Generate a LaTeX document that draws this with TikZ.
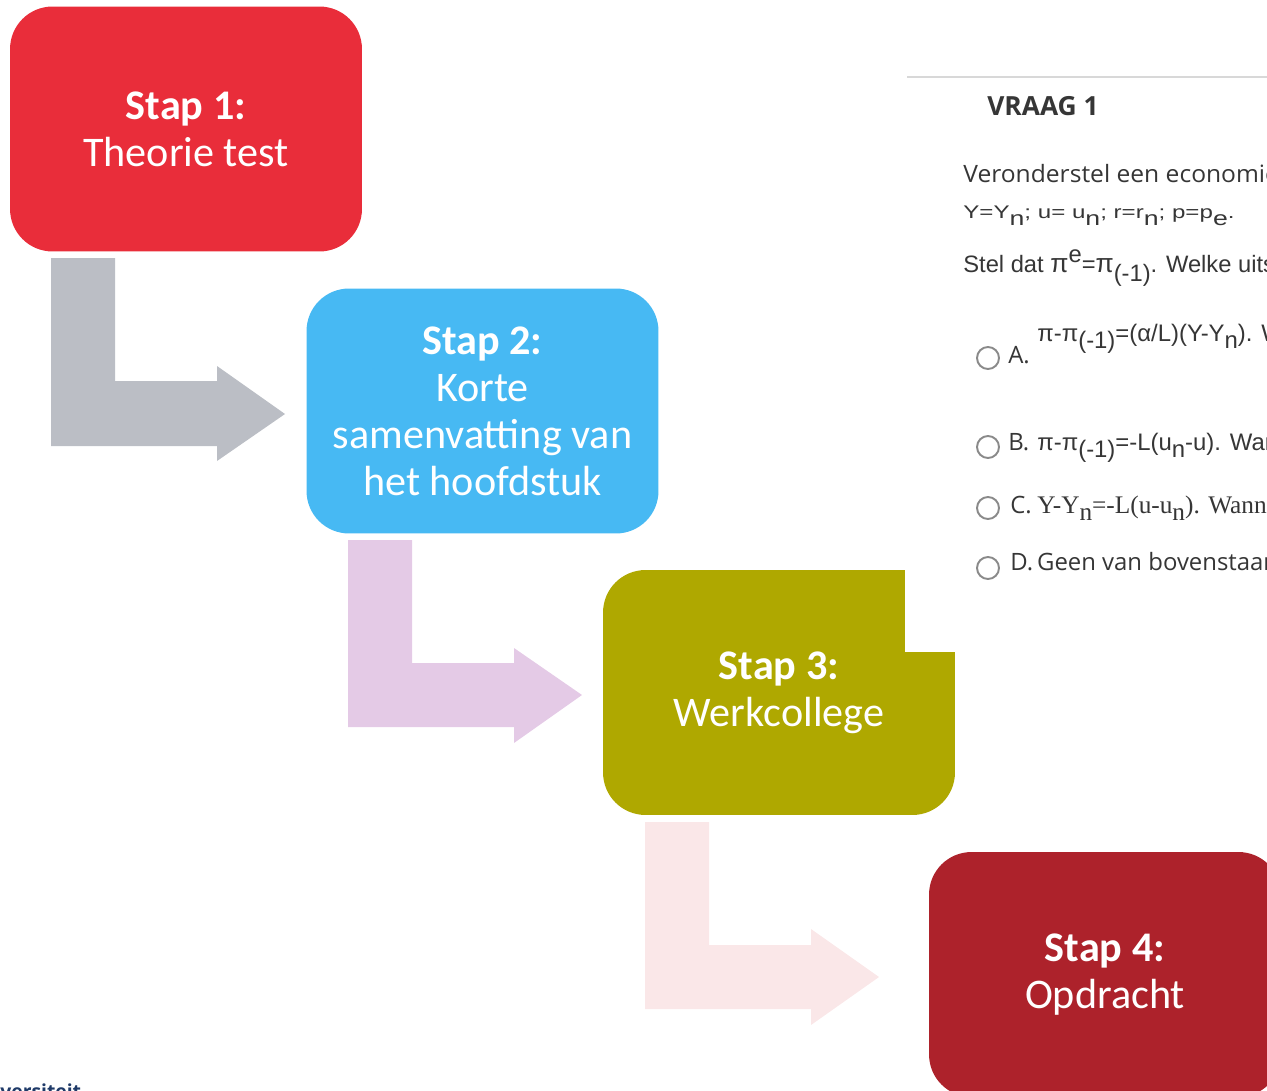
\documentclass[tikz,border=0pt]{standalone}
\usepackage{fontspec}
\usepackage{graphicx}
\setmainfont{Carlito}
\newfontfamily\osans{Open Sans}
\newfontfamily\arialf{Liberation Sans}
\newfontfamily\serff{Liberation Serif}
\definecolor{stapA}{HTML}{E92D3A}
\definecolor{stapB}{HTML}{47B9F3}
\definecolor{stapC}{HTML}{AFA800}
\definecolor{stapD}{HTML}{AD222B}
\definecolor{arrA}{HTML}{BBBEC5}
\definecolor{arrB}{HTML}{E4CAE6}
\definecolor{arrC}{HTML}{FAE7E8}
\definecolor{shottext}{HTML}{363636}
\definecolor{shotline}{HTML}{D8D8D8}
\definecolor{radiogray}{HTML}{8A8A8A}
\definecolor{navyuni}{HTML}{1F3A68}
\newcommand{\lowsub}[2]{\raisebox{-#1}{#2}}
\begin{document}
\begin{tikzpicture}[x=0.02cm,y=-0.02cm,
  stepbox/.style={rounded corners=0.85cm, minimum width=7.04cm, minimum height=4.9cm,
    inner sep=0pt, align=center, text=white, font=\fontsize{24}{26.7}\selectfont},
  shot/.style={anchor=base west, inner sep=0pt, text=shottext},
  osbody/.style={shot, font=\osans\fontsize{13.6}{16}\selectfont},
  arbody/.style={shot, font=\arialf\fontsize{13.6}{16}\selectfont},
  radio/.style={circle, draw=radiogray, line width=1.1pt, fill=white, minimum size=0.44cm, inner sep=0pt}]
\useasboundingbox (0,0) rectangle (1267,1091);
\clip (0,0) rectangle (1267,1091);

% block arrows
\fill[arrA] (51,258) -- (115,258) -- (115,381) -- (217,381) -- (217,366) -- (285,414)
  -- (217,461) -- (217,446) -- (51,446) -- cycle;
\fill[arrB] (348,540) -- (412,540) -- (412,663) -- (514,663) -- (514,648) -- (582,695)
  -- (514,743) -- (514,727) -- (348,727) -- cycle;
\fill[arrC] (645,822) -- (709,822) -- (709,945) -- (811,945) -- (811,929) -- (879,977)
  -- (811,1025) -- (811,1009) -- (645,1009) -- cycle;

% step boxes
\node[stepbox, fill=stapA] (s1) at (186,129) {\textbf{Stap 1:}\\Theorie test};
\node[stepbox, fill=stapB] (s2) at (482.5,411) {\textbf{Stap 2:}\\Korte\\samenvatting van\\het hoofdstuk};
\node[stepbox, fill=stapC] (s3) at (779,692.5) {\textbf{Stap 3:}\\Werkcollege};
\node[stepbox, fill=stapD] (s4) at (1105,974.5) {\textbf{Stap 4:}\\Opdracht};

% screenshot (white background covering part of Stap 3)
\fill[white] (905,40) rectangle (1267,652);
\draw[shotline, line width=1.2pt] (907,77) -- (1267,77);
\node[shot, font=\osans\bfseries\fontsize{15}{18}\selectfont] (vraag) at (987,116) {VRAAG 1};
\node[osbody] (l1) at (963,183) {\scalebox{1.03}[1]{Veronderstel een economie}};
\node[shot, font=\arialf\fontsize{10.4}{12}\selectfont] (l2) at (963,218)
  {\scalebox{1.32}[1]{Y=Y\lowsub{4.5pt}{\fontsize{11.5}{12}\selectfont n}; u= u\lowsub{4.5pt}{\fontsize{11.5}{12}\selectfont n}; r=r\lowsub{4.5pt}{\fontsize{11.5}{12}\selectfont n}; p=p\lowsub{4.5pt}{\fontsize{11.5}{12}\selectfont e}.}};
\node[arbody, font=\arialf\fontsize{13.5}{16}\selectfont] (l3) at (963,272)
  {Stel dat {\fontsize{15}{16}\selectfont π}\raisebox{5.5pt}{e}={\fontsize{15}{16}\selectfont π}\lowsub{5.5pt}{(-1)}. Welke uitspraak};

\node[radio] (ra) at (988,358) {};
\node[osbody] (la) at (1008,363) {A.};
\node[arbody] (fa) at (1037,341) {π-π\lowsub{4.5pt}{(-1)}=(α/L)(Y-Y\lowsub{4.5pt}{n}). Wanneer};

\node[radio] (rb) at (988,447) {};
\node[osbody] (lb) at (1008,450) {B.};
\node[arbody] (fb) at (1037,450) {π-π\lowsub{4.5pt}{(-1)}=-L(u\lowsub{4.5pt}{n}-u). Wanneer};

\node[radio] (rc) at (988,508) {};
\node[osbody] (lc) at (1010,513) {C.};
\node[shot, font=\serff\fontsize{14.4}{16}\selectfont] (fc) at (1037,513) {Y-Y\lowsub{4.5pt}{n}=-L(u-u\lowsub{4.5pt}{n}). Wanneer};

\node[radio] (rd) at (988,568) {};
\node[osbody] (ld) at (1010,570) {D.\,Geen van bovenstaande};

% cut-off footer text
\node[anchor=base west, inner sep=0pt, text=navyuni, font=\osans\bfseries\fontsize{11}{13}\selectfont] (uni) at (0,1098) {versiteit};
\end{tikzpicture}
\end{document}
